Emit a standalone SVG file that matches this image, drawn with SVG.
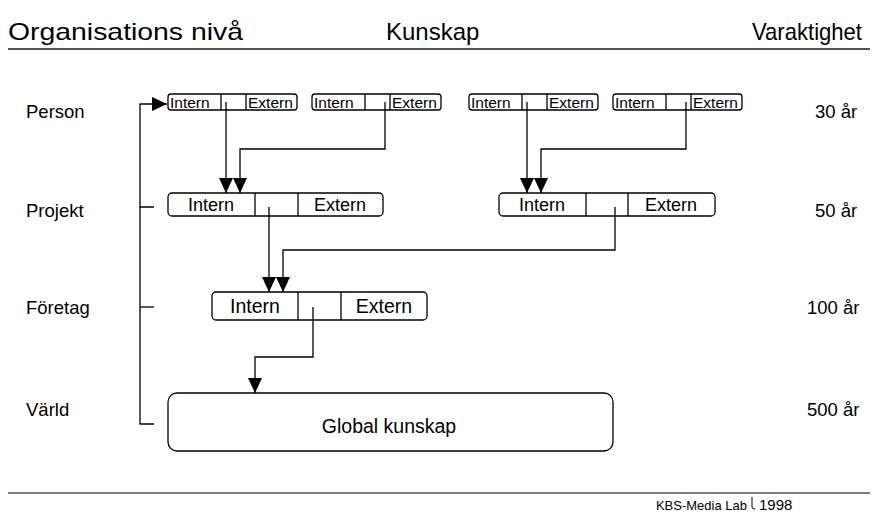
<svg xmlns="http://www.w3.org/2000/svg" width="878" height="514" viewBox="0 0 878 514">
<style>
text{font-family:"Liberation Sans",Arial,sans-serif;fill:#000}
.h{font-size:24px}
.l{font-size:18.5px}
.s{font-size:15.5px}
.m{font-size:18px}
.c{font-size:19.5px}
.g{font-size:19.5px}
.box{fill:#fff;stroke:#000;stroke-width:1.3}
.div{stroke:#000;stroke-width:1.3}
.cn{fill:none;stroke:#000;stroke-width:1.3}
.rule{stroke:#555;stroke-width:2}
</style>
<defs>
<marker id="ah" markerUnits="userSpaceOnUse" markerWidth="16" markerHeight="14" viewBox="0 0 16 14" refX="15" refY="7" orient="auto">
<path d="M0,0 L15,7 L0,14 Z" fill="#000"/>
</marker>
</defs>

<g id="header">
<text class="h" x="8" y="40" textLength="235" lengthAdjust="spacingAndGlyphs">Organisations nivå</text>
<text class="h" x="386" y="40">Kunskap</text>
<text class="h" x="752" y="40" textLength="110" lengthAdjust="spacingAndGlyphs">Varaktighet</text>
<line class="rule" x1="8" y1="49" x2="870" y2="49"/>
</g>

<g id="levels">
<text class="l" x="26" y="118">Person</text>
<text class="l" x="26" y="217">Projekt</text>
<text class="l" x="26" y="314">Företag</text>
<text class="l" x="26" y="416">Värld</text>
</g>

<g id="durations">
<text class="l" x="815" y="118">30 år</text>
<text class="l" x="815" y="217">50 år</text>
<text class="l" x="807" y="314">100 år</text>
<text class="l" x="807" y="416">500 år</text>
</g>

<g id="person1">
<rect class="box" x="168" y="94" width="129" height="16" rx="3"/>
<line class="div" x1="221" y1="94" x2="221" y2="110"/>
<line class="div" x1="246" y1="94" x2="246" y2="110"/>
<text class="s" x="170" y="108">Intern</text>
<text class="s" x="248" y="108">Extern</text>
</g>
<g id="person2">
<rect class="box" x="312" y="94" width="129" height="16" rx="3"/>
<line class="div" x1="365" y1="94" x2="365" y2="110"/>
<line class="div" x1="390" y1="94" x2="390" y2="110"/>
<text class="s" x="314" y="108">Intern</text>
<text class="s" x="392" y="108">Extern</text>
</g>
<g id="person3">
<rect class="box" x="469" y="94" width="129" height="16" rx="3"/>
<line class="div" x1="522" y1="94" x2="522" y2="110"/>
<line class="div" x1="547" y1="94" x2="547" y2="110"/>
<text class="s" x="471" y="108">Intern</text>
<text class="s" x="549" y="108">Extern</text>
</g>
<g id="person4">
<rect class="box" x="613" y="94" width="129" height="16" rx="3"/>
<line class="div" x1="666" y1="94" x2="666" y2="110"/>
<line class="div" x1="691" y1="94" x2="691" y2="110"/>
<text class="s" x="615" y="108">Intern</text>
<text class="s" x="693" y="108">Extern</text>
</g>

<g id="projektA">
<rect class="box" x="168" y="193" width="215" height="23" rx="4"/>
<line class="div" x1="255" y1="193" x2="255" y2="216"/>
<line class="div" x1="298" y1="193" x2="298" y2="216"/>
<text class="m" x="211" y="211" text-anchor="middle">Intern</text>
<text class="m" x="340" y="211" text-anchor="middle">Extern</text>
</g>
<g id="projektB">
<rect class="box" x="499" y="193" width="216" height="23" rx="4"/>
<line class="div" x1="586" y1="193" x2="586" y2="216"/>
<line class="div" x1="628" y1="193" x2="628" y2="216"/>
<text class="m" x="542" y="211" text-anchor="middle">Intern</text>
<text class="m" x="671" y="211" text-anchor="middle">Extern</text>
</g>

<g id="foretag">
<rect class="box" x="212" y="292" width="215" height="28" rx="4"/>
<line class="div" x1="298" y1="292" x2="298" y2="320"/>
<line class="div" x1="341" y1="292" x2="341" y2="320"/>
<text class="c" x="255" y="313" text-anchor="middle">Intern</text>
<text class="c" x="384" y="313" text-anchor="middle">Extern</text>
</g>

<g id="global">
<rect class="box" x="168" y="393" width="445" height="58" rx="9"/>
<text class="g" x="389" y="433" text-anchor="middle">Global kunskap</text>
</g>

<g id="connectors">
<polyline class="cn" points="154,207 140,207 140,104 167,104" marker-end="url(#ah)"/>
<polyline class="cn" points="140,207 140,424 154,424"/>
<line class="cn" x1="140" y1="307" x2="154" y2="307"/>
<line class="cn" x1="226" y1="102" x2="226" y2="193" marker-end="url(#ah)"/>
<polyline class="cn" points="385,102 385,149 240,149 240,193" marker-end="url(#ah)"/>
<line class="cn" x1="527" y1="102" x2="527" y2="193" marker-end="url(#ah)"/>
<polyline class="cn" points="686,102 686,149 541,149 541,193" marker-end="url(#ah)"/>
<line class="cn" x1="269" y1="207" x2="269" y2="292" marker-end="url(#ah)"/>
<polyline class="cn" points="615,207 615,250 283,250 283,292" marker-end="url(#ah)"/>
<polyline class="cn" points="313,307 313,357 255,357 255,393" marker-end="url(#ah)"/>
</g>

<g id="footer">
<line class="rule" x1="8" y1="493" x2="870" y2="493" style="stroke-width:1.5"/>
<text x="747" y="510" text-anchor="end" style="font-size:13px">KBS-Media Lab</text>
<path class="cn" d="M752,497 V507 Q752,509 755,509" style="stroke-width:1"/>
<text x="759" y="510" style="font-size:15px">1998</text>
</g>
</svg>
